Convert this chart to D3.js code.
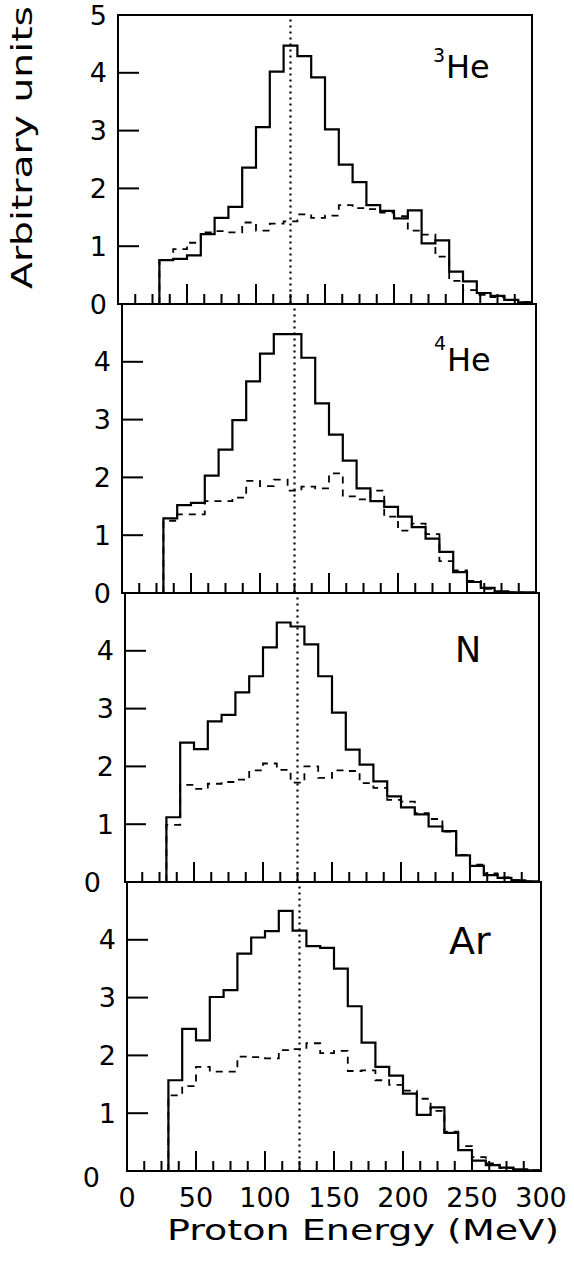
<!DOCTYPE html>
<html>
<head>
<meta charset="utf-8">
<script src="https://cdn.jsdelivr.net/npm/d3@7"></script>
<style>
  html, body { margin: 0; padding: 0; background: #fff; }
  svg { display: block; }
  text { font-family: "DejaVu Sans", "Liberation Sans", Arial, sans-serif; fill: #000; }
</style>
</head>
<body>
<svg id="chart" width="574" height="1263"></svg>
<script>
// ---------- data ----------
const binEdges = [30,40,50,60,70,80,90,100,110,120,130,140,150,160,170,180,190,200,210,220,230,240,250,260,270,280,290,300];

const targets = ["3He", "4He", "N", "Ar"];

const he3Solid  = [0.76,0.78,0.84,1.21,1.49,1.68,2.36,3.06,4.02,4.47,4.29,3.92,3.02,2.41,2.11,1.71,1.61,1.48,1.62,1.05,1.10,0.56,0.39,0.19,0.14,0.07,0.03];
const he3Dashed = [0.76,0.95,1.06,1.24,1.26,1.24,1.41,1.27,1.39,1.43,1.55,1.49,1.53,1.71,1.66,1.64,1.58,1.52,1.27,1.20,0.82,0.40,0.24,0.16,0.12,0.07,0.03];

const he4Solid  = [1.29,1.52,1.56,2.03,2.48,2.99,3.66,4.14,4.48,4.48,4.07,3.28,2.74,2.29,1.81,1.59,1.49,1.32,1.14,0.94,0.71,0.36,0.19,0.09,0.03,0.01,0.01];
const he4Dashed = [1.25,1.36,1.36,1.59,1.59,1.65,1.94,1.85,1.96,1.77,1.84,1.81,2.07,1.67,1.62,1.77,1.32,1.08,1.20,1.02,0.55,0.39,0.21,0.07,0.02,0.01,0.00];

const nSolid    = [1.12,2.41,2.30,2.78,2.89,3.28,3.56,4.06,4.49,4.42,4.11,3.56,2.93,2.29,2.03,1.74,1.48,1.29,1.17,0.96,0.88,0.46,0.28,0.12,0.07,0.03,0.01];
const nDashed   = [0.99,1.68,1.61,1.70,1.73,1.77,1.93,2.05,1.94,1.72,2.00,1.80,1.93,1.92,1.71,1.63,1.42,1.39,1.19,1.09,0.87,0.47,0.30,0.15,0.08,0.03,0.01];

const arSolid   = [1.57,2.46,2.26,3.01,3.13,3.76,4.04,4.15,4.50,4.16,3.89,3.86,3.50,2.85,2.22,1.80,1.65,1.34,0.97,1.10,0.66,0.36,0.18,0.10,0.06,0.03,0.01];
const arDashed  = [1.31,1.47,1.80,1.72,1.72,1.98,1.97,1.95,2.09,2.11,2.21,2.04,2.08,1.73,1.74,1.57,1.49,1.39,1.25,1.04,0.68,0.43,0.24,0.13,0.05,0.02,0.01];

const solidSeries  = [he3Solid, he4Solid, nSolid, arSolid];
const dashedSeries = [he3Dashed, he4Dashed, nDashed, arDashed];

const referenceEnergy = 125;   // dotted vertical line (MeV)

const xMajorTicks = [0,50,100,150,200,250,300];
const xMinorTicks = [12.5,25,37.5,62.5,75,87.5,112.5,125,137.5,162.5,175,187.5,212.5,225,237.5,262.5,275,287.5];
const xTickLabels = ["0","50","100","150","200","250","300"];
const yTicks = [1,2,3,4];
const yLabelsTop = ["0","1","2","3","4","5"];
const yLabelsOther = ["0","1","2","3","4"];

const xTitle = "Proton Energy (MeV)";
const yTitle = "Arbitrary units";

// ---------- layout ----------
const panelTop = 15, panelH = 289, panelW = 414;
const panelLeft = [118, 122, 125, 127];          // scan is slightly skewed
const zeroLabelShift = [0, 0, -13, -16];
const labelLayout = [
  {x: 446, base: 63, size: 32, sup: "3", supDx: -13, supBase: 47},
  {x: 447, base: 67, size: 32, sup: "4", supDx: -13, supBase: 46},
  {x: 455, base: 69, size: 35, sup: null},
  {x: 449, base: 72, size: 38, sup: null}
];

const svg = d3.select("#chart");

targets.forEach((name, p) => {
  const top = panelTop + p * panelH;
  const bottom = top + panelH;
  const left = panelLeft[p];
  const x = d3.scaleLinear().domain([0, 300]).range([left, left + panelW]);
  const y = d3.scaleLinear().domain([0, 5]).range([bottom, top]);
  const g = svg.append("g");

  // frame
  g.append("rect")
    .attr("x", left).attr("y", top).attr("width", panelW).attr("height", panelH)
    .attr("fill", "none").attr("stroke", "#000").attr("stroke-width", 2);

  // dotted reference line
  g.append("line")
    .attr("x1", x(referenceEnergy)).attr("x2", x(referenceEnergy))
    .attr("y1", y(4.92)).attr("y2", y(0))
    .attr("stroke", "#000").attr("stroke-width", 2.2)
    .attr("stroke-dasharray", "2,4");

  // histograms
  const line = d3.line().x(d => x(d[0])).y(d => y(d[1]));
  const stepPts = vals => {
    const pts = [[binEdges[0], 0]];
    vals.forEach((v, i) => { pts.push([binEdges[i], v]); pts.push([binEdges[i + 1], v]); });
    return pts;
  };
  g.append("path").attr("d", line(stepPts(dashedSeries[p])))
    .attr("fill", "none").attr("stroke", "#000").attr("stroke-width", 1.8)
    .attr("stroke-dasharray", "7,6");
  g.append("path").attr("d", line(stepPts(solidSeries[p])))
    .attr("fill", "none").attr("stroke", "#000").attr("stroke-width", 2.2)
    .attr("stroke-linejoin", "miter");

  // tick marks (inward), placed through the scales
  g.selectAll("rect.xminor").data(xMinorTicks).join("rect")
    .attr("x", d => x(d) - 1).attr("y", bottom - 10)
    .attr("width", 2).attr("height", 10).attr("fill", "#000");
  g.selectAll("rect.xmajor").data(xMajorTicks).join("rect")
    .attr("x", d => x(d) - 1).attr("y", bottom - 20)
    .attr("width", 2).attr("height", 20).attr("fill", "#000");
  g.selectAll("rect.ytick").data(yTicks).join("rect")
    .attr("x", left).attr("y", d => y(d) - 1)
    .attr("width", 21).attr("height", 2).attr("fill", "#000");

  // y labels
  const labels = p === 0 ? yLabelsTop : yLabelsOther;
  labels.forEach((t, i) => {
    g.append("text")
      .attr("x", left - 11 + (i === 0 ? zeroLabelShift[p] : 0))
      .attr("y", y(+t) + (i === 0 && p === 3 ? 6 : 0))
      .attr("text-anchor", "end")
      .attr("dominant-baseline", "central")
      .attr("font-size", 27)
      .text(t);
  });

  // target label
  const L = labelLayout[p];
  const main = name.replace(/^[0-9]/, "");
  if (L.sup) {
    g.append("text").attr("x", L.x + L.supDx).attr("y", top + L.supBase)
      .attr("font-size", 19).text(L.sup);
  }
  g.append("text").attr("x", L.x).attr("y", top + L.base)
    .attr("font-size", L.size).text(main);

  // bottom axis labels
  if (p === targets.length - 1) {
    xMajorTicks.forEach((v, i) => {
      g.append("text")
        .attr("x", x(v)).attr("y", bottom + 36)
        .attr("text-anchor", "middle").attr("font-size", 27)
        .text(xTickLabels[i]);
    });
    g.append("text")
      .attr("x", 167).attr("y", 1240)
      .attr("font-size", 29)
      .attr("textLength", 392).attr("lengthAdjust", "spacingAndGlyphs")
      .text(xTitle);
  }
});

// y title
svg.append("text")
  .attr("transform", "translate(32,289) rotate(-90)")
  .attr("font-size", 29)
  .attr("textLength", 283).attr("lengthAdjust", "spacingAndGlyphs")
  .text(yTitle);
</script>
</body>
</html>
